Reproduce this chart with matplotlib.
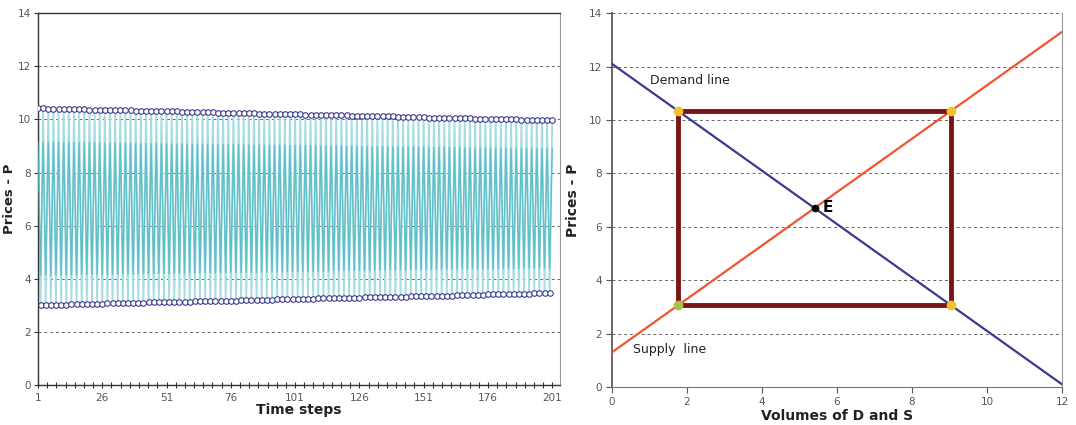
import numpy as np
import matplotlib
matplotlib.use("Agg")
import matplotlib.pyplot as plt

# ---------------- data ----------------
# Left chart: price series, values at odd time steps (high) and even time steps (low)
price_high = [10.42, 10.42, 10.41, 10.41, 10.40, 10.40, 10.39, 10.39, 10.38, 10.38,
              10.37, 10.37, 10.37, 10.36, 10.36, 10.35, 10.35, 10.34, 10.34, 10.33,
              10.33, 10.32, 10.32, 10.32, 10.31, 10.31, 10.30, 10.30, 10.29, 10.29,
              10.28, 10.28, 10.27, 10.27, 10.27, 10.26, 10.26, 10.25, 10.25, 10.24,
              10.24, 10.23, 10.23, 10.22, 10.22, 10.22, 10.21, 10.21, 10.20, 10.20,
              10.19, 10.19, 10.18, 10.18, 10.17, 10.17, 10.17, 10.16, 10.16, 10.15,
              10.15, 10.14, 10.14, 10.13, 10.13, 10.12, 10.12, 10.12, 10.11, 10.11,
              10.10, 10.10, 10.09, 10.09, 10.08, 10.08, 10.07, 10.07, 10.07, 10.06,
              10.06, 10.05, 10.05, 10.04, 10.04, 10.03, 10.03, 10.02, 10.02, 10.02,
              10.01, 10.01, 10.00, 10.00, 9.99, 9.99, 9.98, 9.98, 9.97, 9.97,
              9.96]
price_low = [3.01, 3.01, 3.02, 3.02, 3.03, 3.03, 3.04, 3.04, 3.05, 3.05,
             3.06, 3.06, 3.06, 3.07, 3.07, 3.08, 3.08, 3.09, 3.09, 3.10,
             3.10, 3.11, 3.11, 3.11, 3.12, 3.12, 3.13, 3.13, 3.14, 3.14,
             3.15, 3.15, 3.16, 3.16, 3.16, 3.17, 3.17, 3.18, 3.18, 3.19,
             3.19, 3.20, 3.20, 3.21, 3.21, 3.21, 3.22, 3.22, 3.23, 3.23,
             3.24, 3.24, 3.25, 3.25, 3.26, 3.26, 3.26, 3.27, 3.27, 3.28,
             3.28, 3.29, 3.29, 3.30, 3.30, 3.31, 3.31, 3.31, 3.32, 3.32,
             3.33, 3.33, 3.34, 3.34, 3.35, 3.35, 3.36, 3.36, 3.36, 3.37,
             3.37, 3.38, 3.38, 3.39, 3.39, 3.40, 3.40, 3.41, 3.41, 3.41,
             3.42, 3.42, 3.43, 3.43, 3.44, 3.44, 3.45, 3.45, 3.46, 3.46]
# second (inner) oscillating series
inner_high = [9.14, 9.14, 9.14, 9.14, 9.13, 9.13, 9.13, 9.13, 9.12, 9.12,
              9.12, 9.12, 9.11, 9.11, 9.11, 9.11, 9.10, 9.10, 9.10, 9.10,
              9.09, 9.09, 9.09, 9.09, 9.08, 9.08, 9.08, 9.08, 9.07, 9.07,
              9.07, 9.07, 9.06, 9.06, 9.06, 9.06, 9.05, 9.05, 9.05, 9.05,
              9.04, 9.04, 9.04, 9.04, 9.03, 9.03, 9.03, 9.03, 9.02, 9.02,
              9.02, 9.02, 9.01, 9.01, 9.01, 9.01, 9.00, 9.00, 9.00, 9.00,
              8.99, 8.99, 8.99, 8.99, 8.98, 8.98, 8.98, 8.98, 8.97, 8.97,
              8.97, 8.97, 8.96, 8.96, 8.96, 8.96, 8.95, 8.95, 8.95, 8.95,
              8.94, 8.94, 8.94, 8.94, 8.93, 8.93, 8.93, 8.93, 8.92, 8.92,
              8.92, 8.92, 8.91, 8.91, 8.91, 8.91, 8.90, 8.90, 8.90, 8.90,
              8.90]
inner_low = [4.14, 4.14, 4.14, 4.14, 4.15, 4.15, 4.15, 4.15, 4.16, 4.16,
             4.16, 4.16, 4.17, 4.17, 4.17, 4.18, 4.18, 4.18, 4.18, 4.19,
             4.19, 4.19, 4.20, 4.20, 4.20, 4.20, 4.21, 4.21, 4.21, 4.22,
             4.22, 4.22, 4.22, 4.23, 4.23, 4.23, 4.24, 4.24, 4.24, 4.24,
             4.25, 4.25, 4.25, 4.26, 4.26, 4.26, 4.26, 4.27, 4.27, 4.27,
             4.28, 4.28, 4.28, 4.28, 4.29, 4.29, 4.29, 4.30, 4.30, 4.30,
             4.30, 4.31, 4.31, 4.31, 4.32, 4.32, 4.32, 4.32, 4.33, 4.33,
             4.33, 4.34, 4.34, 4.34, 4.34, 4.35, 4.35, 4.35, 4.36, 4.36,
             4.36, 4.36, 4.37, 4.37, 4.37, 4.38, 4.38, 4.38, 4.38, 4.39,
             4.39, 4.39, 4.39, 4.39, 4.40, 4.40, 4.40, 4.40, 4.40, 4.40]
time_tick_labels = [1, 26, 51, 76, 101, 126, 151, 176, 201]

# Right chart: demand / supply lines and the cobweb cycle
line_q = [0, 12]
demand_p = [12.1, 0.1]
supply_p = [1.3, 13.3]
cycle_q = [1.77, 9.03, 9.03, 1.77, 1.77]
cycle_p = [10.33, 10.33, 3.07, 3.07, 10.33]
corner_q = [1.77, 9.03, 9.03]
corner_p = [10.33, 10.33, 3.07]
start_q = [1.77]
start_p = [3.07]
eq_q = [5.4]
eq_p = [6.7]
price_ticks = [0, 2, 4, 6, 8, 10, 12, 14]
volume_ticks = [0, 2, 4, 6, 8, 10, 12]


def interleave(hi, lo):
    out = np.empty(len(hi) + len(lo))
    out[0::2] = hi
    out[1::2] = lo
    return out


prices = interleave(price_high, price_low)
inner = interleave(inner_high, inner_low)
t = np.arange(1, len(prices) + 1)

# ---------------- figure ----------------
fig = plt.figure(figsize=(10.76, 4.25), dpi=100)
axL = fig.add_axes([0.0353, 0.0941, 0.4851, 0.8749])
axR = fig.add_axes([0.5688, 0.0894, 0.4182, 0.8796])

tick_color = "#555555"
grid_kw = dict(color="#666666", linestyle=(0, (3, 3)), linewidth=0.7)

# ---- left chart ----
axL.plot(t, prices, color="#a3dce1", linewidth=1.3, zorder=2)
axL.plot(t, inner, color="#4fb8c2", linewidth=1.0, alpha=0.8, zorder=3)
axL.plot(t, prices, linestyle="none", marker="o", markersize=4.0,
         markerfacecolor="white", markeredgecolor="#3c3c8e",
         markeredgewidth=0.8, zorder=4)
axL.set_xlim(1, 204)
axL.set_ylim(0, 14)
axL.set_yticks(price_ticks)
axL.set_xticks(time_tick_labels)
axL.set_xticks(np.linspace(1, 201, 57), minor=True)
for y in price_ticks[1:-1]:
    axL.axhline(y, zorder=1, **grid_kw)
axL.tick_params(axis="both", labelsize=7.5, labelcolor=tick_color,
                color="#333333", length=4, width=0.8)
axL.tick_params(axis="x", which="both", direction="inout")
axL.tick_params(axis="x", which="minor", length=4, width=0.8, color="#333333")
axL.tick_params(axis="y", direction="out", length=3, pad=2)
for s in ["left", "bottom", "top"]:
    axL.spines[s].set_color("#333333")
    axL.spines[s].set_linewidth(1.0)
axL.spines["right"].set_color("#999999")
axL.set_xlabel("Time steps", fontsize=10, fontweight="bold", labelpad=0,
               color="#222222")
axL.set_ylabel("Prices - P", fontsize=9.5, fontweight="bold", labelpad=1,
               color="#222222")

# ---- right chart ----
axR.set_xlim(0, 12)
axR.set_ylim(0, 14)
for y in price_ticks[1:]:
    axR.axhline(y, zorder=1, **grid_kw)
axR.plot(line_q, demand_p, color="#3a3a90", linewidth=1.6, zorder=3)
axR.plot(line_q, supply_p, color="#ee5530", linewidth=1.6, zorder=3)
axR.plot(cycle_q, cycle_p, color="#7b1414", linewidth=3.5,
         solid_joinstyle="miter", zorder=4)
axR.plot(corner_q, corner_p, linestyle="none", marker="o", markersize=6,
         color="#f2c230", zorder=5)
axR.plot(start_q, start_p, linestyle="none", marker="o", markersize=6,
         color="#a8c246", zorder=5)
axR.plot(eq_q, eq_p, linestyle="none", marker="o", markersize=4.5,
         color="black", zorder=6)
axR.text(5.62, 6.72, "E", fontsize=11, fontweight="bold", va="center",
         ha="left", color="black", zorder=6)
axR.text(1.0, 11.46, "Demand line", fontsize=9, va="center", ha="left",
         color="#222222")
axR.text(0.55, 1.42, "Supply  line", fontsize=9, va="center", ha="left",
         color="#222222")
axR.set_xticks(volume_ticks)
axR.set_yticks(price_ticks)
axR.tick_params(axis="both", labelsize=7.5, labelcolor=tick_color,
                color="#555555", length=4, width=0.8, direction="out")
axR.spines["top"].set_visible(False)
axR.spines["left"].set_color("#5a4a4a")
axR.spines["left"].set_linewidth(1.2)
axR.spines["bottom"].set_color("#777777")
axR.spines["right"].set_color("#999999")
axR.set_xlabel("Volumes of D and S", fontsize=10, fontweight="bold",
               labelpad=1, color="#222222")
axR.set_ylabel("Prices - P", fontsize=10, fontweight="bold", labelpad=6,
               color="#222222")

fig.savefig("out.png", dpi=100)
